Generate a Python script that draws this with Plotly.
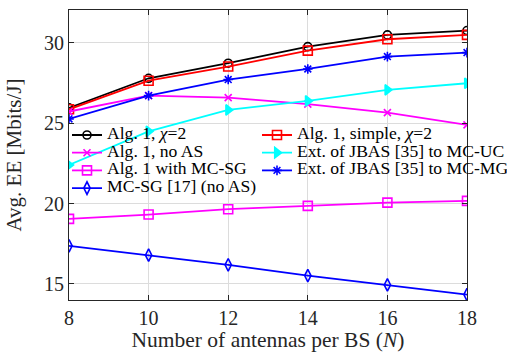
import plotly.graph_objects as go

N = [8, 10, 12, 14, 16, 18]
alg1_chi2 = [25.96, 27.8, 28.74, 29.77, 30.5, 30.77]
alg1_simple = [25.87, 27.65, 28.53, 29.52, 30.23, 30.5]
alg1_noAS = [25.73, 26.72, 26.6, 26.19, 25.66, 24.9]
jbas_uc = [22.4, 24.5, 25.83, 26.39, 27.08, 27.49]
alg1_mcsg = [19.05, 19.32, 19.65, 19.86, 20.06, 20.17]
jbas_mg = [25.27, 26.72, 27.72, 28.38, 29.15, 29.4]
mcsg = [17.37, 16.79, 16.19, 15.52, 14.94, 14.34]

x_ticks = [8, 10, 12, 14, 16, 18]
y_ticks = [15, 20, 25, 30]

# name, values, colour, symbol, size, legend column, legend row
series = [
    ("Alg. 1, <i>χ</i>=2", alg1_chi2, "black", "circle-open", 8, 0, 0),
    ("Alg. 1, simple, <i>χ</i>=2", alg1_simple, "red", "square-open", 9, 1, 0),
    ("Alg. 1, no AS", alg1_noAS, "magenta", "x-thin-open", 7, 0, 1),
    ("Ext. of JBAS [35] to MC-UC", jbas_uc, "cyan", "triangle-right", 9, 1, 1),
    ("Alg. 1 with MC-SG", alg1_mcsg, "magenta", "square-open", 9, 0, 2),
    ("Ext. of JBAS [35] to MC-MG", jbas_mg, "blue", "asterisk-open", 8, 1, 2),
    ("MC-SG [17] (no AS)", mcsg, "blue", "diamond-tall-open", 9, 0, 3),
]

LEG_FS = 17.6
font = "Liberation Serif, Times New Roman, serif"

# plot area geometry (pixels)
W, H = 507, 352
ML, MR, MT, MB = 69, 40, 10, 52
PW, PH = W - ML - MR, H - MT - MB

col_x = [67, 257]            # legend box left edge, px
row_top = 120.5              # first legend box top, px
row_step = 17.7              # px between legend rows

fig = go.Figure()
layout_legends = {}
for i, (name, ys, color, sym, size, col, row) in enumerate(series):
    key = "legend" if i == 0 else f"legend{i + 1}"
    fig.add_trace(go.Scatter(
        x=N, y=ys,
        name=f"<span style='font-size:{LEG_FS}px'>{name}</span>",
        mode="lines+markers", legend=key,
        line=dict(color=color, width=1.8),
        marker=dict(symbol=sym, size=size, color=color,
                    line=dict(color=color, width=1.6)),
    ))
    top = row_top + row * row_step
    layout_legends[key] = dict(
        x=(col_x[col] - ML) / PW, y=(H - MB - top) / PH,
        orientation="v", xanchor="left", yanchor="top",
        bgcolor="rgba(0,0,0,0)", borderwidth=0,
        font=dict(family=font, size=9.8, color="black"),
        itemwidth=30,
    )

fig.update_layout(
    width=W, height=H,
    margin=dict(l=ML, r=MR, t=MT, b=MB, autoexpand=False),
    paper_bgcolor="white", plot_bgcolor="white",
    font=dict(family=font, size=20, color="#262626"),
    showlegend=True,
    xaxis=dict(
        range=[8, 18], tickvals=x_ticks, showgrid=True, gridcolor="#dcdcdc",
        gridwidth=1, zeroline=False, showline=True, linecolor="#262626",
        linewidth=1, mirror="ticks", ticks="inside", ticklen=5,
        tickcolor="#262626", automargin=False,
        title=dict(text="Number of antennas per BS (<i>N</i>)", standoff=8,
                   font=dict(size=21.5)),
        tickfont=dict(size=20),
    ),
    yaxis=dict(
        range=[14.0, 32.05], tickvals=y_ticks, showgrid=True,
        gridcolor="#dcdcdc", gridwidth=1, zeroline=False, showline=True,
        linecolor="#262626", linewidth=1, mirror="ticks", ticks="inside",
        ticklen=5, tickcolor="#262626", automargin=False,
        title=dict(text="Avg. EE [Mbits/J]", standoff=16, font=dict(size=21)),
        tickfont=dict(size=20),
    ),
    **layout_legends,
)
fig.write_html("out.html")
